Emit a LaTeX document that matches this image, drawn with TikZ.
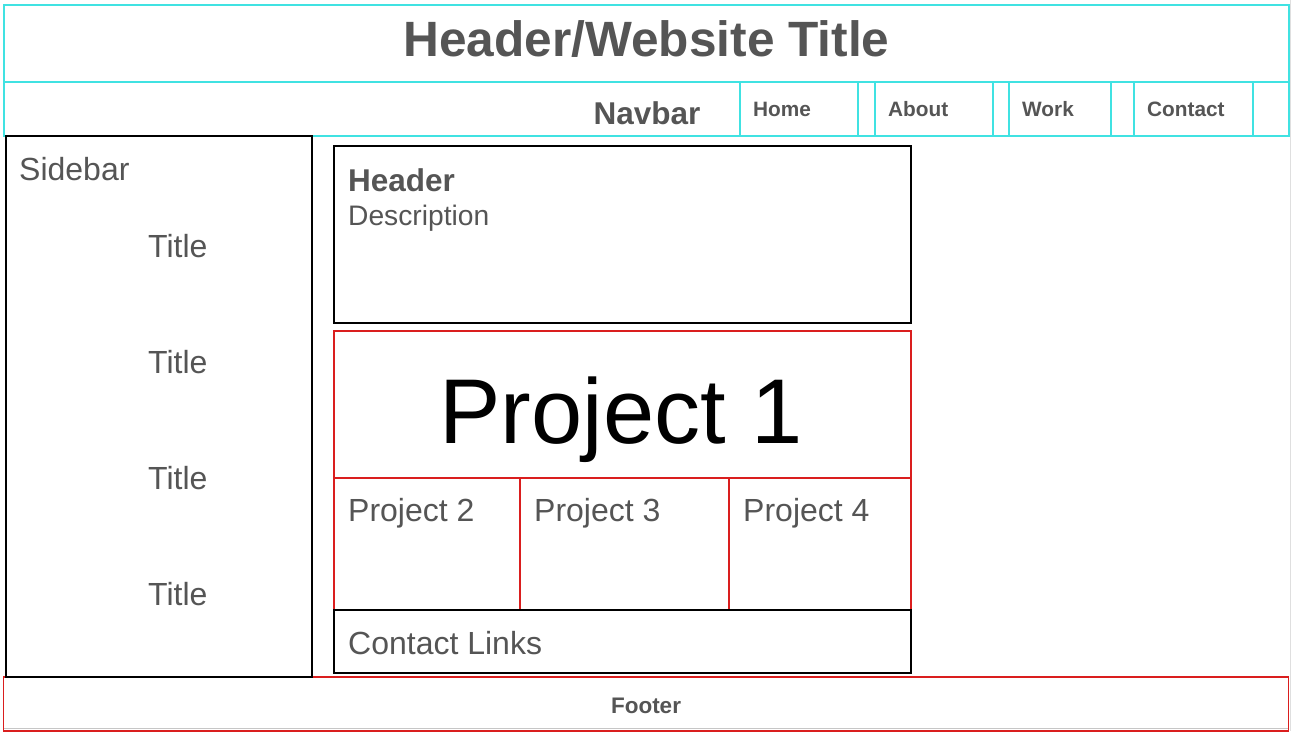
\documentclass[tikz,border=0pt]{standalone}
\usepackage{fontspec}
\setmainfont{Liberation Sans}
\begin{document}
\definecolor{navcyan}{RGB}{64,226,226}
\definecolor{gridred}{RGB}{218,30,30}
\definecolor{inkgray}{RGB}{85,85,85}
\begin{tikzpicture}[x=1pt,y=-1pt,
  box/.style={rectangle,inner sep=0pt,outer sep=0pt,anchor=north west},
  cyanbox/.style={box,draw=navcyan,line width=1.4pt},
  blackbox/.style={box,draw=black,line width=2.6pt},
  redbox/.style={box,draw=gridred,line width=1.4pt},
  lbl/.style={inner sep=0pt,anchor=base west,text=inkgray,font=\fontsize{32}{32}\selectfont},
  navlbl/.style={inner sep=0pt,anchor=base west,text=inkgray,font=\bfseries\fontsize{20.8}{20.8}\selectfont},
]
\useasboundingbox (0,0) rectangle (1293,736);
\fill[white] (0,0) rectangle (1293,736);

% right page edge
\draw[gray!25,line width=1pt] (1290,0) -- (1290,731);

% footer (drawn first so the sidebar edge sits on top)
\draw[gray!45,line width=1pt] (4,728) -- (1288,728);
\node[redbox,minimum width=1285pt,minimum height=54pt] (foot) at (3.5,677) {};
\node[inner sep=0pt,anchor=base,text=inkgray,font=\bfseries\fontsize{22.5}{22.5}\selectfont] (foott) at (646,713) {Footer};

% site header and navbar
\node[cyanbox,minimum width=1285pt,minimum height=77pt] (site) at (4,5) {};
\node[cyanbox,minimum width=1285pt,minimum height=54pt] (nav) at (4,82) {};
\node[inner sep=0pt,anchor=base,text=inkgray,font=\bfseries\fontsize{49.6}{49.6}\selectfont] (sitetitle) at (646.5,56) {Header/Website Title};
\node[inner sep=0pt,anchor=base,text=inkgray,font=\bfseries\fontsize{31.5}{31.5}\selectfont] (navtitle) at (647,124) {Navbar};

% navbar items
\node[cyanbox,minimum width=118pt,minimum height=54pt] (home) at (740,82) {};
\node[cyanbox,minimum width=118pt,minimum height=54pt] (about) at (875,82) {};
\node[cyanbox,minimum width=102pt,minimum height=54pt] (work) at (1009,82) {};
\node[cyanbox,minimum width=119pt,minimum height=54pt] (contact) at (1134,82) {};
\node[navlbl] (homet) at (753,116) {Home};
\node[navlbl] (aboutt) at (888,116) {About};
\node[navlbl] (workt) at (1022,116) {Work};
\node[navlbl] (contactt) at (1147,116) {Contact};

% sidebar
\node[blackbox,minimum width=306pt,minimum height=541pt] (side) at (6,136) {};
\node[lbl] (sidet) at (19,180) {Sidebar};
\node[lbl] (t1) at (148,257) {Title};
\node[lbl] (t2) at (148,373) {Title};
\node[lbl] (t3) at (148,489) {Title};
\node[lbl] (t4) at (148,605) {Title};

% main header
\node[blackbox,minimum width=577pt,minimum height=177pt] (head) at (334,146) {};
\node[lbl,font=\bfseries\fontsize{31.5}{31.5}\selectfont] (headt) at (348,191) {Header};
\node[lbl,font=\fontsize{28.2}{28.2}\selectfont] (desct) at (348,225) {Description};

% project grid
\node[redbox,minimum width=577pt,minimum height=279pt] (grid) at (334,331) {};
\node[redbox,minimum width=577pt,minimum height=147pt] (p1) at (334,331) {};
\node[redbox,minimum width=186pt,minimum height=132pt] (p2) at (334,478) {};
\node[redbox,minimum width=209pt,minimum height=132pt] (p3) at (520,478) {};
\node[redbox,minimum width=182pt,minimum height=132pt] (p4) at (729,478) {};
\node[inner sep=0pt,anchor=base,text=black,font=\fontsize{92}{92}\selectfont] (p1t) at (621,443) {Project 1};
\node[lbl] (p2t) at (348,521) {Project 2};
\node[lbl] (p3t) at (534,521) {Project 3};
\node[lbl] (p4t) at (743,521) {Project 4};

% contact links
\node[blackbox,minimum width=577pt,minimum height=63pt] (links) at (334,610) {};
\node[lbl] (linkst) at (348,654) {Contact Links};
\end{tikzpicture}
\end{document}
